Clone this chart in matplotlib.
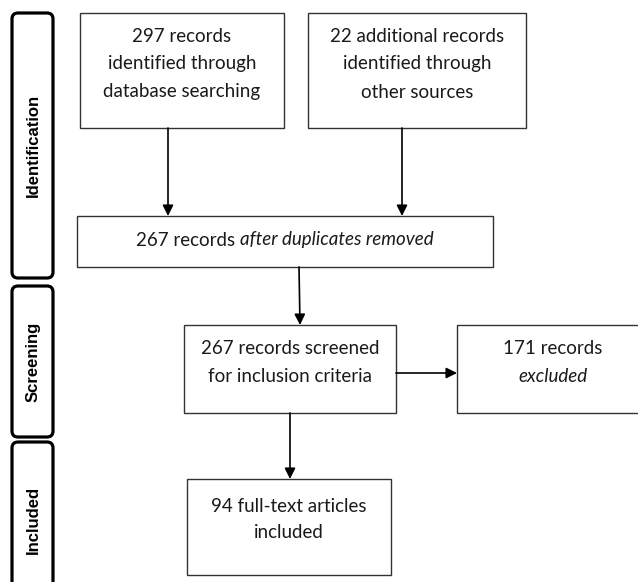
import matplotlib
matplotlib.use("Agg")
import matplotlib.pyplot as plt
from matplotlib.patches import Rectangle, FancyBboxPatch

# counts shown in the flow diagram
n_database = 297
n_other = 22
n_dedup = 267
n_screened = 267
n_excluded = 171
n_included = 94

stages = ["Identification", "Screening", "Included"]

W, H = 638, 582
fig = plt.figure(figsize=(W / 100, H / 100), dpi=100)
ax = fig.add_axes([0, 0, 1, 1])
ax.set_xlim(0, W)
ax.set_ylim(H, 0)
ax.axis("off")

FONT = "Lato"
FS = 13.5
TXT = "#1a1a1a"
renderer = fig.canvas.get_renderer()


def box(x0, y0, x1, y1):
    ax.add_patch(Rectangle((x0, y0), x1 - x0, y1 - y0, fill=False,
                           edgecolor="#333333", lw=1.0))


def line(x, y, parts):
    # parts: list of (text, style); drawn side by side, centred on x
    objs, widths = [], []
    for s, st in parts:
        t = ax.text(0, y, s, fontsize=FS, family=FONT, style=st, color=TXT,
                    ha="left", va="center")
        objs.append(t)
        widths.append(t.get_window_extent(renderer).width)
    cx = x - sum(widths) / 2
    for t, w in zip(objs, widths):
        t.set_x(cx)
        cx += w


def arrow(x0, y0, x1, y1):
    ax.annotate("", xy=(x1, y1), xytext=(x0, y0),
                arrowprops=dict(arrowstyle="-|>", color="black", lw=1.2,
                                mutation_scale=16, shrinkA=0, shrinkB=0))


# stage labels on the left
stage_spans = [(13, 278), (286, 437), (442, 598)]
for name, (y0, y1) in zip(stages, stage_spans):
    ax.add_patch(FancyBboxPatch((12, y0), 41, y1 - y0,
                                boxstyle="round,pad=0,rounding_size=6",
                                fill=False, edgecolor="black", lw=2.3))
    ax.text(33, (y0 + y1) / 2, name, rotation=90, fontsize=12,
            family="Liberation Sans", weight="bold", ha="center", va="center")

# boxes
box(80, 13, 284, 128)
line(182, 36, [(f"{n_database} records", "normal")])
line(182, 64, [("identified through", "normal")])
line(182, 92, [("database searching", "normal")])

box(308, 13, 526, 128)
line(417, 36, [(f"{n_other} additional records", "normal")])
line(417, 64, [("identified through", "normal")])
line(417, 92, [("other sources", "normal")])

box(77, 216, 493, 267)
line(285, 240, [(f"{n_dedup} records ", "normal"),
                ("after duplicates removed", "italic")])

box(184, 325, 396, 413)
line(290, 349, [(f"{n_screened} records screened", "normal")])
line(290, 376, [("for inclusion criteria", "normal")])

box(457, 325, 645, 413)
line(553, 349, [(f"{n_excluded} records", "normal")])
line(553, 377, [("excluded", "italic")])

box(187, 479, 391, 575)
line(289, 507, [(f"{n_included} full-text articles", "normal")])
line(289, 533, [("included", "normal")])

# arrows
arrow(168, 128, 168, 216)
arrow(402, 128, 402, 216)
arrow(299, 267, 300, 325)
arrow(396, 373, 457, 373)
arrow(290, 413, 290, 479)

fig.savefig("out.png", dpi=100)
